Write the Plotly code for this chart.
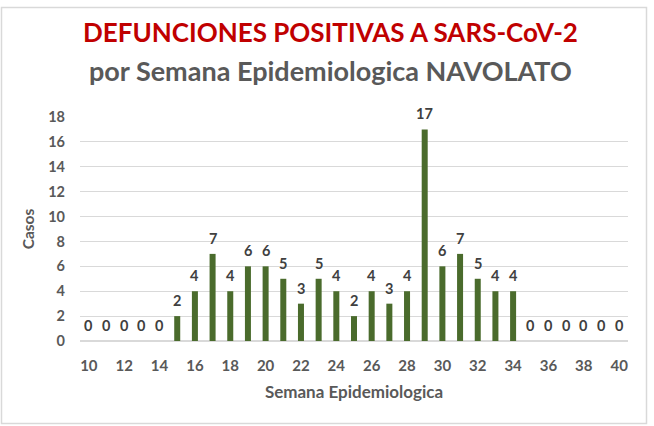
import plotly.graph_objects as go

# Epidemiological weeks and deaths per week
semanas = list(range(10, 41))
casos = [0, 0, 0, 0, 0, 2, 4, 7, 4, 6, 6, 5, 3, 5, 4, 2, 4, 3, 4, 17,
         6, 7, 5, 4, 4, 0, 0, 0, 0, 0, 0]
x_ticks = list(range(10, 41, 2))
y_ticks = list(range(0, 19, 2))
titulo = "DEFUNCIONES POSITIVAS A SARS-CoV-2"
subtitulo = "por Semana Epidemiologica NAVOLATO"

W, H = 654, 426
L, R, T, B = 80, 26, 117, 85
pw, ph = W - L - R, H - T - B

def px_to_paper(xp, yp):
    return (xp - L) / pw, (H - B - yp) / ph

FONT = "Lato"
GRAY = "#595959"

fig = go.Figure(go.Bar(
    x=semanas, y=casos, width=0.34,
    marker=dict(color="#4a6b2c", line=dict(width=0)),
    hoverinfo="x+y",
))

# value labels above each bar
for s, v in zip(semanas, casos):
    fig.add_annotation(x=s, y=v, text=str(v), showarrow=False, yanchor="bottom",
                       yshift=5, font=dict(family=FONT, size=14.5, color="#404040",
                                           weight="bold"))

# two-line title
tx, ty1 = px_to_paper(330, 32)
_, ty2 = px_to_paper(330, 70)
fig.add_annotation(xref="paper", yref="paper", x=tx, y=ty1, text=titulo,
                   showarrow=False, xanchor="center", yanchor="middle",
                   font=dict(family=FONT, size=26, color="#c00000", weight="bold"))
fig.add_annotation(xref="paper", yref="paper", x=tx, y=ty2, text=subtitulo,
                   showarrow=False, xanchor="center", yanchor="middle",
                   font=dict(family=FONT, size=27, color=GRAY, weight="bold"))

# light frame round the whole chart
x0, y0 = px_to_paper(1.5, 423.5)
x1, y1 = px_to_paper(646.5, 7.5)
fig.add_shape(type="rect", xref="paper", yref="paper", x0=x0, y0=y0, x1=x1, y1=y1,
              line=dict(color="#d9d9d9", width=1.5), layer="below")

fig.update_layout(
    width=W, height=H, margin=dict(l=L, r=R, t=T, b=B),
    paper_bgcolor="white", plot_bgcolor="white", showlegend=False,
    font=dict(family=FONT, color=GRAY),
    xaxis=dict(range=[9.5, 40.5], tickvals=x_ticks, showgrid=False, zeroline=False,
               showline=False, ticks="", ticklabelstandoff=14,
               tickfont=dict(family=FONT, size=15, color=GRAY, weight="bold"),
               title=dict(text="Semana Epidemiologica", standoff=13,
                          font=dict(family=FONT, size=17, color=GRAY, weight="bold"))),
    yaxis=dict(range=[0, 18], tickvals=y_ticks, showgrid=True, gridcolor="#d9d9d9",
               gridwidth=1, zeroline=True, zerolinecolor="#d9d9d9", ticks="",
               ticklabelstandoff=14,
               tickfont=dict(family=FONT, size=14.5, color=GRAY, weight="bold"),
               title=dict(text="Casos", standoff=9,
                          font=dict(family=FONT, size=15.5, color=GRAY, weight="bold"))),
)

fig.write_html("out.html")
